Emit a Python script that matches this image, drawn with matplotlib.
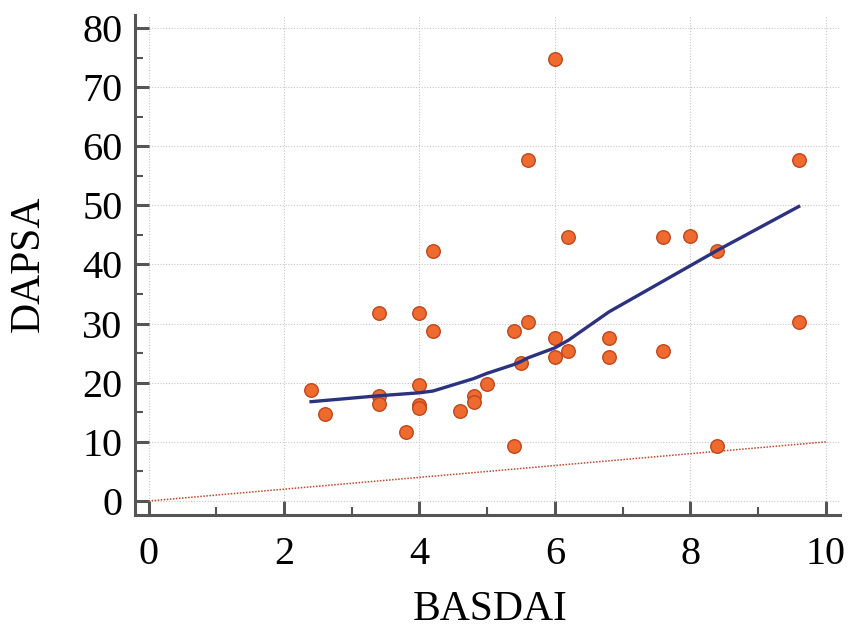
import matplotlib
matplotlib.use("Agg")
import matplotlib.pyplot as plt
from matplotlib.ticker import MultipleLocator

# BASDAI vs DAPSA, con curva de suavizado y linea de referencia
basdai = [2.4, 2.6, 3.4, 3.4, 3.4, 3.8, 4.0, 4.0, 4.0, 4.0, 4.2, 4.2,
          4.6, 4.8, 4.8, 5.0, 5.4, 5.4, 5.5, 5.6, 5.6, 6.0, 6.0, 6.0,
          6.2, 6.2, 6.8, 6.8, 7.6, 7.6, 8.0, 8.4, 8.4, 9.6, 9.6]
dapsa = [18.8, 14.7, 31.8, 17.8, 16.4, 11.7, 31.8, 19.6, 16.2, 15.7, 42.3, 28.8,
         15.2, 17.8, 16.8, 19.8, 9.3, 28.8, 23.4, 30.3, 57.7, 74.8, 27.6, 24.4,
         44.7, 25.4, 27.6, 24.4, 44.7, 25.4, 44.8, 42.3, 9.3, 57.7, 30.3]

# curva suavizada
fit_x = [2.4, 3.4, 4.0, 4.2, 4.6, 4.8, 5.0, 5.4, 5.5, 5.6, 6.0, 6.2, 6.8, 7.6, 8.0, 8.4, 9.6]
fit_y = [16.8, 17.8, 18.3, 18.6, 20.0, 20.7, 21.6, 23.1, 23.6, 24.2, 25.9, 27.2, 32.0, 37.2, 39.8, 42.4, 49.8]

# linea de identidad
ref_x = [0, 10]
ref_y = [0, 10]

plt.rcParams['font.family'] = ['Liberation Serif', 'DejaVu Serif']

fig = plt.figure(figsize=(8.48, 6.37), dpi=100)
ax = fig.add_axes([0.1592, 0.1915, 0.8314, 0.785])

ax.plot(ref_x, ref_y, color='#c8462a', lw=1.1, linestyle=(0, (1, 1)), zorder=2)
ax.scatter(basdai, dapsa, s=95, color='#ee6a2e', edgecolor='#c0471c', linewidth=1.0, zorder=3)
ax.plot(fit_x, fit_y, color='#2b3280', lw=2.4, zorder=4)

ax.set_xlim(-0.2, 10.21)
ax.set_ylim(-2.37, 82.2)

ax.xaxis.set_major_locator(MultipleLocator(2))
ax.xaxis.set_minor_locator(MultipleLocator(1))
ax.yaxis.set_major_locator(MultipleLocator(10))
ax.yaxis.set_minor_locator(MultipleLocator(5))

ax.grid(True, which='major', color='#c6c6c6', linestyle=(0, (1, 1.5)), lw=0.8)
ax.set_axisbelow(True)

for side in ['top', 'right']:
    ax.spines[side].set_visible(False)
for side in ['left', 'bottom']:
    ax.spines[side].set_color('#555555')
    ax.spines[side].set_linewidth(2.2)

ax.tick_params(which='major', direction='in', length=10, width=2.2, color='#555555', labelsize=29)
ax.tick_params(which='minor', direction='in', length=5.5, width=1.5, color='#555555')
ax.tick_params(axis='x', which='major', pad=15)
ax.tick_params(axis='y', which='major', pad=9)

fig.text(490 / 848, 1 - 610 / 637, 'BASDAI', ha='center', va='center', fontsize=30)
fig.text(28 / 848, 1 - 264 / 637, 'DAPSA', ha='center', va='center', rotation=90, fontsize=30)

fig.savefig('out.png', dpi=100)
